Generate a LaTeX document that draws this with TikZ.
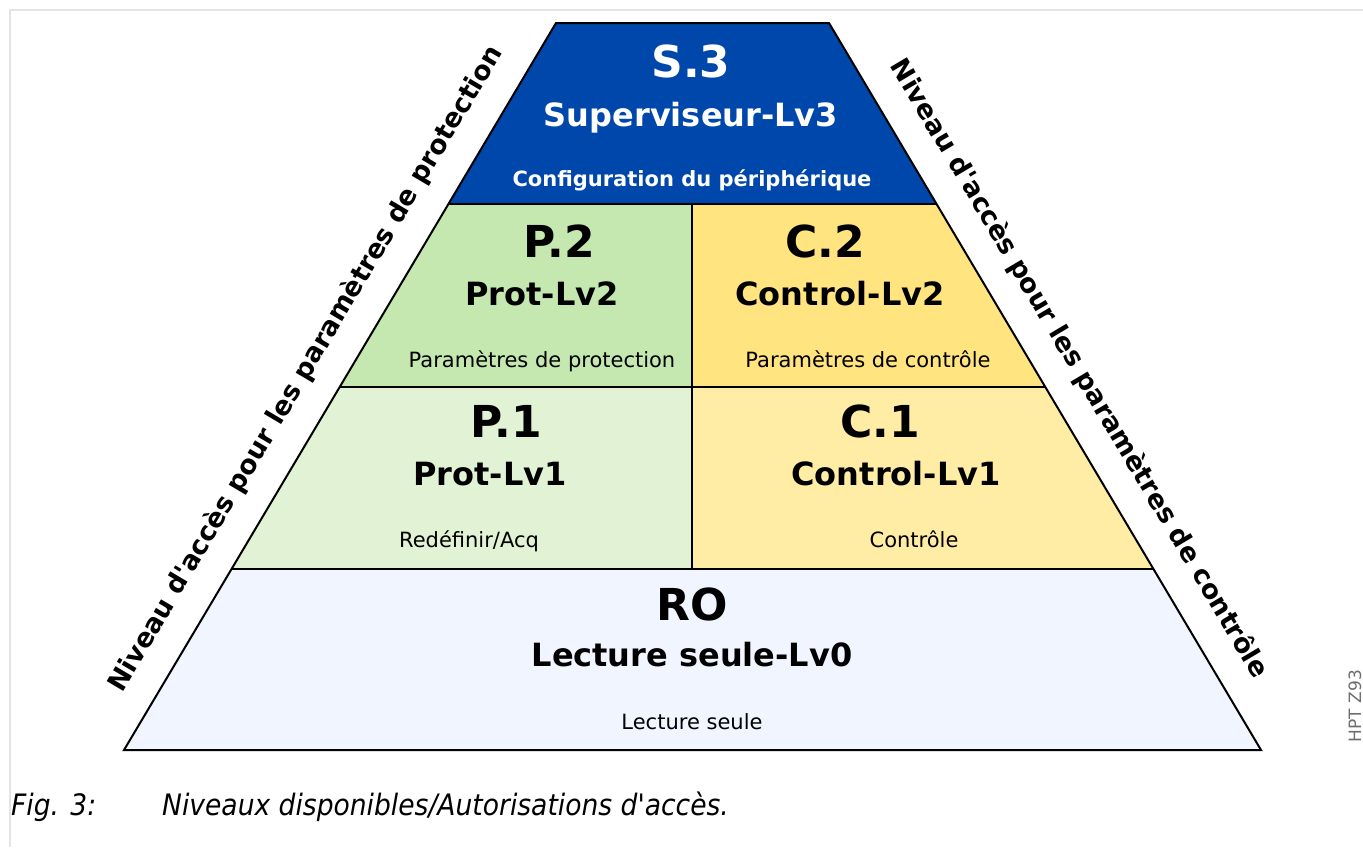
\documentclass[tikz,border=0pt]{standalone}
\usepackage{fontspec}
\setmainfont{DejaVu Sans}
\newfontfamily\djv{DejaVu Sans}
\newfontfamily\capfont[FakeStretch=0.9]{DejaVu Sans}
\definecolor{framegray}{RGB}{228,228,228}
\definecolor{sblue}{RGB}{0,71,171}
\definecolor{ptwo}{RGB}{197,232,176}
\definecolor{pone}{RGB}{226,243,213}
\definecolor{ctwo}{RGB}{255,228,128}
\definecolor{cone}{RGB}{255,237,166}
\definecolor{rofill}{RGB}{240,245,255}
\definecolor{hptgray}{RGB}{110,110,110}
\begin{document}
\begin{tikzpicture}[x=1pt,y=-1pt,
  edgeline/.style={draw=black,line width=2pt,line join=miter},
  bigtxt/.style={font=\bfseries\fontsize{44}{44}\selectfont,anchor=base,inner sep=0pt},
  midtxt/.style={font=\bfseries\fontsize{32}{32}\selectfont,anchor=base,inner sep=0pt},
  smalltxt/.style={font=\fontsize{21}{21}\selectfont,anchor=base,inner sep=0pt},
  sidetxt/.style={font=\djv\bfseries\fontsize{26.5}{26.5}\selectfont,inner sep=0pt},
  captxt/.style={anchor=base west,inner sep=0pt,font=\capfont\itshape\fontsize{29.5}{29.5}\selectfont}]
\useasboundingbox (0,0) rectangle (1363,847);
\fill[white] (0,0) rectangle (1363,847);
\draw[framegray,line width=2pt] (10,847) -- (10,10) -- (1363,10);
% corner coordinates
\coordinate (T1) at (556,23);   \coordinate (T2) at (829,23);
\coordinate (A1) at (448.5,204); \coordinate (A2) at (936.5,204);
\coordinate (B1) at (339.7,387); \coordinate (B2) at (1045.3,387);
\coordinate (C1) at (231.6,569); \coordinate (C2) at (1153.4,569);
\coordinate (D1) at (124,750);  \coordinate (D2) at (1261,750);
\coordinate (M1) at (692,204);  \coordinate (M2) at (692,387);
\coordinate (M3) at (692,569);
% fills
\fill[sblue] (T1) -- (T2) -- (A2) -- (A1) -- cycle;
\fill[ptwo] (A1) -- (M1) -- (M2) -- (B1) -- cycle;
\fill[ctwo] (M1) -- (A2) -- (B2) -- (M2) -- cycle;
\fill[pone] (B1) -- (M2) -- (M3) -- (C1) -- cycle;
\fill[cone] (M2) -- (B2) -- (C2) -- (M3) -- cycle;
\fill[rofill] (C1) -- (C2) -- (D2) -- (D1) -- cycle;
% lines
\draw[edgeline] (T1) -- (T2) -- (D2) -- (D1) -- cycle;
\draw[edgeline] (A1) -- (A2);
\draw[edgeline] (B1) -- (B2);
\draw[edgeline] (C1) -- (C2);
\draw[edgeline] (M1) -- (M3);
% texts S.3
\node[bigtxt,text=white] (s3) at (691,77) {S.3};
\node[midtxt,text=white] (s3n) at (691,126) {Superviseur-Lv3};
\node[smalltxt,text=white,font=\bfseries\fontsize{21}{21}\selectfont] (s3d) at (692,186) {Configuration du périphérique};
% P.2
\node[bigtxt] (p2) at (559,257) {P.2};
\node[midtxt] (p2n) at (542,305) {Prot-Lv2};
\node[smalltxt] (p2d) at (542,367) {Paramètres de protection};
% C.2
\node[bigtxt] (c2) at (825,257) {C.2};
\node[midtxt] (c2n) at (840,305) {Control-Lv2};
\node[smalltxt] (c2d) at (868,367) {Paramètres de contrôle};
% P.1
\node[bigtxt] (p1) at (506,437) {P.1};
\node[midtxt] (p1n) at (490,485) {Prot-Lv1};
\node[smalltxt] (p1d) at (469,547) {Redéfinir/Acq};
% C.1
\node[bigtxt] (c1) at (880,437) {C.1};
\node[midtxt] (c1n) at (896,485) {Control-Lv1};
\node[smalltxt] (c1d) at (914,547) {Contrôle};
% RO
\node[bigtxt] (ro) at (692,620) {RO};
\node[midtxt] (ron) at (692,666) {Lecture seule-Lv0};
\node[smalltxt] (rod) at (692,729) {Lecture seule};
% side labels
\node[sidetxt,rotate=59.3] (lside) at (306,369) {Niveau d'accès pour les paramètres de protection};
\node[sidetxt,rotate=-59.3] (rside) at (1079,369) {Niveau d'accès pour les paramètres de contrôle};
% caption
\node[captxt] (fig) at (11,815) {Fig. 3:};
\node[captxt] (cap) at (162,815) {Niveaux disponibles/Autorisations d'accès.};
% id
\node[rotate=90,inner sep=0pt,text=hptgray,font=\fontsize{17}{17}\selectfont] (hpt) at (1355,706) {HPT Z93};
\end{tikzpicture}
\end{document}
